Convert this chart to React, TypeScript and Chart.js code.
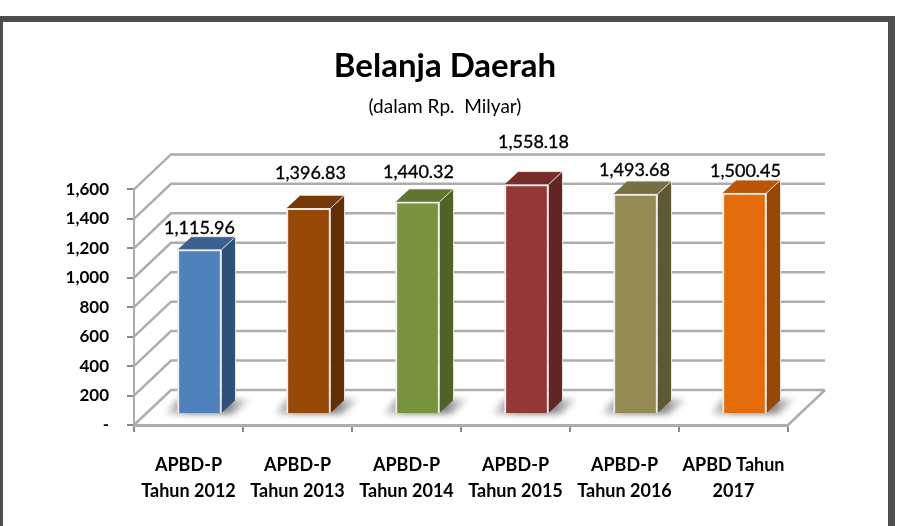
import React, { useEffect, useRef } from "react";
import { Chart, registerables } from "chart.js";

Chart.register(...registerables);

const categories: (string[])[] = [
  ["APBD-P", "Tahun 2012"],
  ["APBD-P", "Tahun 2013"],
  ["APBD-P", "Tahun 2014"],
  ["APBD-P", "Tahun 2015"],
  ["APBD-P", "Tahun 2016"],
  ["APBD Tahun", "2017"],
];
const values = [1115.96, 1396.83, 1440.32, 1558.18, 1493.68, 1500.45];
const frontColors = ["#4f81bd", "#984807", "#77933c", "#953735", "#948a54", "#e46c0a"];
const sideColors = ["#2f5078", "#632f04", "#4f6228", "#632523", "#5f5933", "#974806"];
const topColors = ["#3b6190", "#76390a", "#5f7530", "#772c2a", "#777044", "#b85708"];
// how far each value label sits above its bar's front top edge, and its sideways nudge
const labelLift = [21, 35, 30, 42, 24, 22];
const labelNudge = [0, 2, 1, 7, -1, 1];

const FONT = "Lato, sans-serif";
const GRID = "#adadad";
const DEPTH_X = 37;
const DEPTH_Y = 35;
const BAR_SHIFT = 11;
const BAR_DX = 14;
const BAR_DY = 13;

const fmt = (v: number) =>
  v.toLocaleString("en-US", { minimumFractionDigits: 2, maximumFractionDigits: 2 });

const poly = (ctx: CanvasRenderingContext2D, pts: number[][], fill: any) => {
  ctx.beginPath();
  pts.forEach((p, i) => (i ? ctx.lineTo(p[0], p[1]) : ctx.moveTo(p[0], p[1])));
  ctx.closePath();
  ctx.fillStyle = fill;
  ctx.fill();
};

const threeD = {
  id: "threeD",
  beforeDatasetsDraw(chart: any) {
    const { ctx, chartArea, scales } = chart;
    const { left, right, bottom } = chartArea;
    ctx.save();
    ctx.strokeStyle = GRID;
    ctx.lineWidth = 2.5;
    scales.y.ticks.forEach((t: any) => {
      const y = scales.y.getPixelForValue(t.value);
      ctx.beginPath();
      ctx.moveTo(left, y);
      ctx.lineTo(left + DEPTH_X, y - DEPTH_Y);
      ctx.lineTo(right + DEPTH_X, y - DEPTH_Y);
      ctx.stroke();
    });
    ctx.beginPath();
    ctx.moveTo(right, bottom);
    ctx.lineTo(right + DEPTH_X, bottom - DEPTH_Y);
    ctx.stroke();
    ctx.restore();

    const meta = chart.getDatasetMeta(0);
    ctx.save();
    meta.data.forEach((bar: any, i: number) => {
      const L = bar.x - bar.width / 2 + BAR_SHIFT;
      const R = bar.x + bar.width / 2 + BAR_SHIFT;
      const Y = bar.base - BAR_SHIFT;
      const T = bar.y - BAR_SHIFT;
      ctx.save();
      ctx.filter = "blur(3px)";
      const g = ctx.createLinearGradient(L - 15, 0, R + 32, 0);
      g.addColorStop(0, "rgba(100,100,100,0.15)");
      g.addColorStop(0.3, "rgba(100,100,100,0.8)");
      g.addColorStop(0.7, "rgba(100,100,100,0.8)");
      g.addColorStop(1, "rgba(100,100,100,0)");
      poly(ctx, [[L - 12, Y + 1], [R + 12, Y + 1], [R + 30, Y - 14], [L, Y - 14]], g);
      ctx.restore();
      poly(ctx, [[R, Y], [R + BAR_DX, Y - BAR_DY], [R + BAR_DX, T - BAR_DY], [R, T]], sideColors[i]);
      poly(ctx, [[L, T], [L + BAR_DX, T - BAR_DY], [R + BAR_DX, T - BAR_DY], [R, T]], topColors[i]);
      ctx.strokeStyle = "rgba(235,235,235,0.9)";
      ctx.lineWidth = 1;
      ctx.beginPath();
      ctx.moveTo(R, T);
      ctx.lineTo(R + BAR_DX, T - BAR_DY);
      ctx.lineTo(L + BAR_DX, T - BAR_DY);
      ctx.moveTo(R + BAR_DX, T - BAR_DY);
      ctx.lineTo(R + BAR_DX, Y - BAR_DY);
      ctx.stroke();
    });
    ctx.restore();
  },
  beforeDatasetDraw(chart: any) {
    chart.ctx.save();
    chart.ctx.translate(BAR_SHIFT, -BAR_SHIFT);
  },
  afterDatasetDraw(chart: any) {
    chart.ctx.restore();
  },
  afterDatasetsDraw(chart: any) {
    const { ctx } = chart;
    const meta = chart.getDatasetMeta(0);
    ctx.save();
    ctx.font = `18px ${FONT}`;
    ctx.fillStyle = "#000";
    ctx.strokeStyle = "#000";
    ctx.lineWidth = 0.35;
    ctx.textAlign = "center";
    ctx.textBaseline = "middle";
    meta.data.forEach((bar: any, i: number) => {
      const x = bar.x + BAR_SHIFT + labelNudge[i];
      const y = bar.y - BAR_SHIFT - labelLift[i];
      ctx.fillText(fmt(values[i]), x, y);
      ctx.strokeText(fmt(values[i]), x, y);
    });
    ctx.restore();
  },
};

export default function App() {
  const ref = useRef<HTMLCanvasElement>(null);
  useEffect(() => {
    const chart = new Chart(ref.current!, {
      type: "bar",
      data: {
        labels: categories,
        datasets: [
          {
            data: values,
            backgroundColor: frontColors,
            borderColor: "rgba(238,238,238,0.95)",
            borderWidth: 2,
            barThickness: 44,
            clip: false,
          } as any,
        ],
      },
      options: {
        animation: false,
        responsive: false,
        layout: { padding: { right: 8 } },
        plugins: {
          legend: { display: false },
          tooltip: { enabled: false },
          title: {
            display: true,
            text: "Belanja Daerah",
            color: "#000",
            font: { family: FONT, size: 33, weight: "bold", lineHeight: 1.2 },
            padding: { top: 47, bottom: 9 },
          },
          subtitle: {
            display: true,
            text: "(dalam Rp.  Milyar)",
            color: "#000",
            font: { family: FONT, size: 19, weight: "normal", lineHeight: 1.2 },
            padding: { top: 0, bottom: 71 },
          },
        },
        scales: {
          x: {
            afterFit: (s: any) => {
              s.height = 101;
            },
            grid: { drawOnChartArea: false, tickLength: 7, color: "#8a8a8a", lineWidth: 2 },
            border: { color: GRID, width: 3 },
            ticks: {
              color: "#000",
              padding: 20,
              maxRotation: 0,
              autoSkip: false,
              font: { family: FONT, size: 18, weight: "bold", lineHeight: 1.45 },
            },
          },
          y: {
            min: 0,
            max: 1600,
            afterFit: (s: any) => {
              s.width = 134;
            },
            grid: { drawOnChartArea: false, tickLength: 7, color: "#8a8a8a", lineWidth: 2 },
            border: { color: GRID, width: 2 },
            ticks: {
              stepSize: 200,
              color: "#000",
              padding: 18,
              font: { family: FONT, size: 17, weight: "bold" },
              callback: (v: any) => (v === 0 ? "-" : Number(v).toLocaleString("en-US")),
            },
          },
          spare: {
            type: "linear",
            position: "right",
            afterFit: (s: any) => {
              s.width = 102;
            },
            grid: { display: false },
            border: { display: false },
            ticks: { display: false },
          },
        },
      } as any,
      plugins: [threeD],
    });
    return () => chart.destroy();
  }, []);
  return (
    <div style={{ position: "fixed", left: 0, top: 0, width: 898, height: 526, overflow: "hidden", background: "#fff" }}>
      <canvas ref={ref} width={898} height={526} style={{ position: "absolute", left: 0, top: 0, display: "block", filter: "blur(0.4px)" }} />
      <div
        style={{
          position: "absolute",
          left: 0,
          top: 16,
          width: 895,
          height: 600,
          boxSizing: "border-box",
          borderStyle: "solid",
          borderColor: "#4d4d4d",
          borderWidth: "6px 7px 6px 3px",
        }}
      />
    </div>
  );
}
